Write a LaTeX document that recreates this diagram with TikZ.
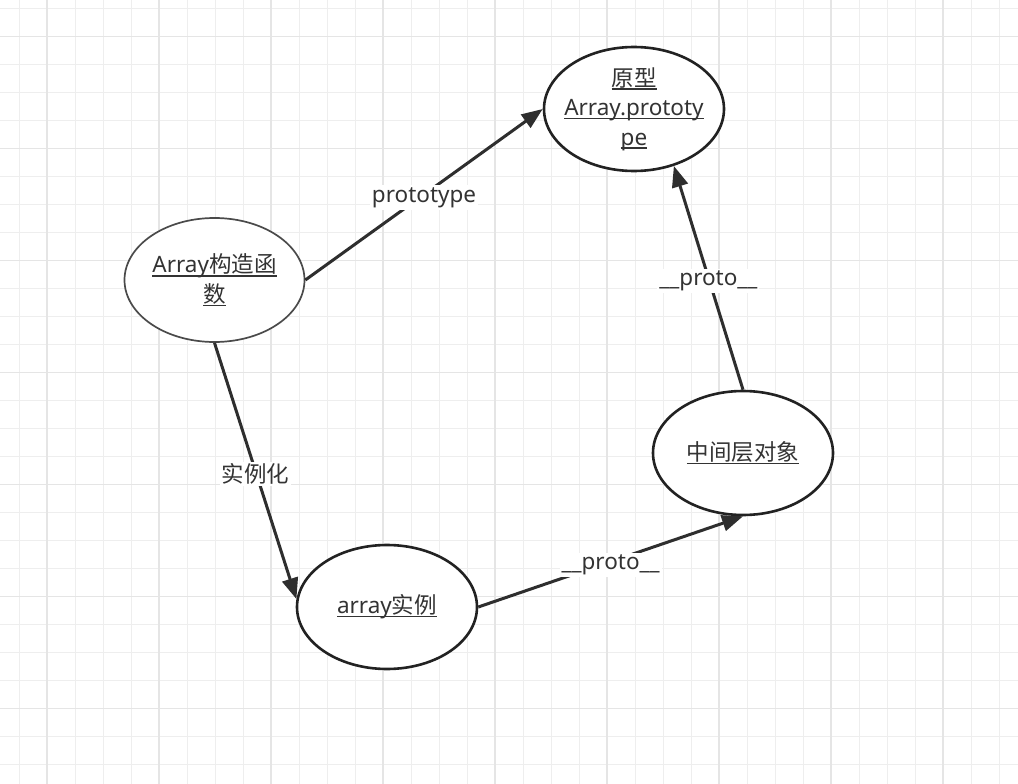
\documentclass[tikz,border=0pt]{standalone}
\usepackage{fontspec}
\setmainfont{Noto Sans}
\newfontfamily\cjk{Noto Sans CJK SC}
\usetikzlibrary{arrows.meta,shapes.geometric}
\definecolor{txt}{HTML}{333333}
\definecolor{gridminor}{HTML}{EEEEEE}
\definecolor{gridmajor}{HTML}{E5E5E5}
\definecolor{edgecol}{HTML}{2E2E2E}
\definecolor{bordA}{HTML}{4A4A4A}
\definecolor{bordB}{HTML}{222222}
\newcommand\myul[1]{\leavevmode\setbox0=\hbox{#1}\rlap{\rule[-3.6pt]{\wd0}{1.3pt}}\box0}
\tikzset{
  ell/.style={ellipse, draw=bordB, line width=2.6pt, fill=white, minimum width=180pt, minimum height=124pt,
    inner sep=-25pt, align=center, text=txt, font=\fontsize{22.5pt}{29.5pt}\selectfont},
  ellthin/.style={ell, draw=bordA, line width=1.7pt},
  arr/.style={draw=edgecol, line width=3pt, -{Triangle[length=21pt,width=16pt]}},
  lbl/.style={fill=white, inner sep=2pt, yshift=-3pt, text=txt, font=\fontsize{22.5pt}{26pt}\selectfont},
  gmin/.style={draw=gridminor, line width=1pt},
  gmaj/.style={draw=gridmajor, line width=1.4pt}
}
\begin{document}
\begin{tikzpicture}[x=1pt,y=-1pt]
\useasboundingbox (0,0) rectangle (1018,784);
\fill[white] (0,0) rectangle (1018,784);
\foreach \x in {19,47,...,999} \draw[gmin] (\x,0) -- (\x,784);
\foreach \y in {8.5,36.5,...,765} \draw[gmin] (0,\y) -- (1018,\y);
\foreach \x in {47,159,...,943} \draw[gmaj] (\x,0) -- (\x,784);
\foreach \y in {36.5,148.5,...,709} \draw[gmaj] (0,\y) -- (1018,\y);

\node[ell] (P) at (634,109) {\myul{{\cjk 原型}}\\\myul{Array.prototy}\\\myul{pe}};
\node[ellthin] (A) at (214.5,280) {\myul{Array{\cjk 构造函}}\\\myul{{\cjk 数}}};
\node[ell] (I) at (387,607) {\myul{array{\cjk 实例}}};
\node[ell] (M) at (743,453) {\myul{{\cjk 中间层对象}}};

\draw[arr] (A.east) -- node[lbl] (l1) {prototype} (P.west);
\draw[arr] (A.south) -- node[lbl] (l2) {{\cjk 实例化}} (I.175);
\draw[arr] (I.east) -- node[lbl] (l3) {\_\_proto\_\_} (M.south);
\draw[arr] (M.north) -- node[lbl] (l4) {\_\_proto\_\_} (P.-55);
\end{tikzpicture}
\end{document}
